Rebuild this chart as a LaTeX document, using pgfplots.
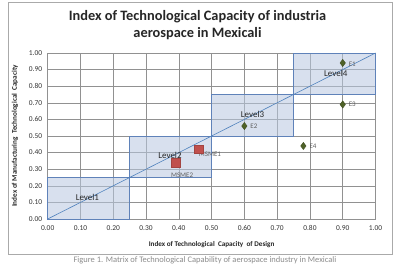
\documentclass[border=0pt]{standalone}
\usepackage{pgfplots}
\pgfplotsset{compat=1.18}
\usepackage{fontspec}
\setmainfont{Carlito}

\definecolor{gridgray}{RGB}{145,145,145}
\definecolor{framegray}{RGB}{170,170,170}
\definecolor{lineblue}{RGB}{79,129,189}
\definecolor{boxedge}{RGB}{95,130,185}
\definecolor{boxfill}{RGB}{185,200,225}
\definecolor{msmered}{RGB}{192,80,77}
\definecolor{firmgreen}{RGB}{79,98,40}
\definecolor{labelgray}{RGB}{95,95,95}

\begin{document}
\begin{tikzpicture}
  % fixed page size
  \path[use as bounding box] (0bp,0bp) rectangle (397bp,265bp);
  \fill[white] (0bp,0bp) rectangle (397bp,265bp);
  % chart frame
  \draw[framegray, line width=0.6bp] (8bp,11bp) rectangle (392bp,263bp);

  % title
  \node[font=\bfseries\fontsize{14.4}{16.6}\selectfont, align=center, text=black!85]
    at (197.5bp,240bp) {Index of Technological Capacity of industria\\aerospace in Mexicali};

  \begin{axis}[
    at={(47.7bp,46bp)}, anchor=south west,
    scale only axis, width=327.8bp, height=166bp,
    xmin=0, xmax=1, ymin=0, ymax=1,
    xtick={0,0.1,...,1.0}, ytick={0,0.1,...,1.0},
    grid=major,
    major grid style={gridgray, line width=0.55bp},
    axis line style={gridgray, line width=0.55bp},
    major tick length=0pt,
    tick label style={font=\fontsize{7.5}{9}\selectfont, text=black!80},
    /pgf/number format/.cd, fixed, fixed zerofill, precision=2, assume math mode=true,
    /pgfplots/.cd,
    xticklabel style={yshift=-3bp},
    yticklabel style={xshift=-2bp},
    xlabel={Index of Technological\ \ Capacity\ \ of Design},
    ylabel={Index of Manufacturing\ \ Technological\ \ Capacity},
    label style={font=\bfseries\fontsize{7.2}{8.5}\selectfont, text=black!85},
    xlabel style={yshift=-4bp},
    ylabel style={yshift=4bp},
    clip=false,
  ]
    % capability levels
    \addplot[draw=boxedge, line width=0.7bp, fill=boxfill, fill opacity=0.55]
      coordinates {(0,0) (0.25,0) (0.25,0.25) (0,0.25)} -- cycle;
    \addplot[draw=boxedge, line width=0.7bp, fill=boxfill, fill opacity=0.55]
      coordinates {(0.25,0.25) (0.5,0.25) (0.5,0.5) (0.25,0.5)} -- cycle;
    \addplot[draw=boxedge, line width=0.7bp, fill=boxfill, fill opacity=0.55]
      coordinates {(0.5,0.5) (0.75,0.5) (0.75,0.75) (0.5,0.75)} -- cycle;
    \addplot[draw=boxedge, line width=0.7bp, fill=boxfill, fill opacity=0.55]
      coordinates {(0.75,0.75) (1,0.75) (1,1) (0.75,1)} -- cycle;

    % diagonal reference
    \addplot[lineblue, line width=0.6bp] coordinates {(0,0) (1,1)};

    % small and medium enterprises
    \addplot[only marks, mark=square*, mark size=4.4bp,
      mark options={fill=msmered, draw=msmered!85!black}]
      coordinates {(0.46,0.42) (0.39,0.34)};
    % firms
    \addplot[only marks, mark=diamond*, mark size=3.6bp,
      mark options={fill=firmgreen, draw=firmgreen!80!black}]
      coordinates {(0.90,0.94) (0.60,0.56) (0.90,0.69) (0.78,0.44)};

    % level labels
    \begin{scope}[every node/.style={font=\fontsize{9}{10}\selectfont, text=black!85}]
      \node at (axis cs:0.121,0.128) {Level1};
      \node at (axis cs:0.373,0.386) {Level2};
      \node at (axis cs:0.625,0.627) {Level3};
      \node at (axis cs:0.879,0.878) {Level4};
    \end{scope}

    % point labels
    \begin{scope}[every node/.style={font=\fontsize{7}{8}\selectfont, text=labelgray, inner sep=1bp}]
      \node[anchor=west] at (axis cs:0.915,0.935) {E1};
      \node[anchor=west] at (axis cs:0.615,0.56) {E2};
      \node[anchor=west] at (axis cs:0.915,0.69) {E3};
      \node[anchor=west] at (axis cs:0.795,0.44) {E4};
      \node at (axis cs:0.495,0.393) {MSME1};
      \node at (axis cs:0.41,0.265) {MSME2};
    \end{scope}
  \end{axis}

  % figure caption below the chart
  \node[font=\fontsize{8.5}{9}\selectfont, text=black!45] at (205bp,4.5bp)
    {Figure 1. Matrix of Technological Capability of aerospace industry in Mexicali};
\end{tikzpicture}
\end{document}
